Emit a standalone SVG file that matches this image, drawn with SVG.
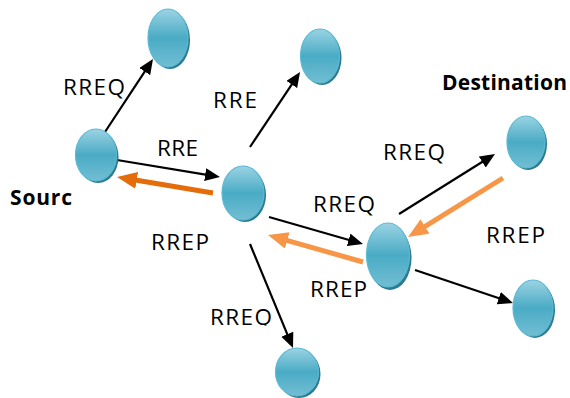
<svg xmlns="http://www.w3.org/2000/svg" width="570" height="398" viewBox="0 0 570 398">
<style>
.lbl{font-family:"Open Sans","Liberation Sans",sans-serif;font-size:22.5px;fill:#000}
.bold{font-family:"Open Sans","Liberation Sans",sans-serif;font-size:21px;font-weight:bold;fill:#000}
.blk{stroke:#000;stroke-width:2.2;fill:none;marker-end:url(#ahB)}
.dor{stroke:#E46C0A;stroke-width:5;fill:none;marker-end:url(#ahD)}
.lor{stroke:#F79646;stroke-width:5;fill:none;marker-end:url(#ahL)}
.sh{fill:#2B7A8F}
.nd{fill:url(#g);stroke:#5BBAD3;stroke-width:1.2}
</style>
<defs>
<linearGradient id="g" x1="0" y1="0" x2="0" y2="1">
<stop offset="0" stop-color="#9BD3E3"/>
<stop offset="0.5" stop-color="#4AABC5"/>
<stop offset="1" stop-color="#72BED3"/>
</linearGradient>
<marker id="ahB" markerUnits="userSpaceOnUse" markerWidth="16" markerHeight="14" refX="5" refY="6.5" orient="auto"><path d="M0,0 L15,6.5 L0,13 z" fill="#000"/></marker>
<marker id="ahD" markerUnits="userSpaceOnUse" markerWidth="21" markerHeight="18" refX="6" refY="8.5" orient="auto"><path d="M0,0 L20,8.5 L0,17 z" fill="#E46C0A"/></marker>
<marker id="ahL" markerUnits="userSpaceOnUse" markerWidth="21" markerHeight="18" refX="6" refY="8.5" orient="auto"><path d="M0,0 L20,8.5 L0,17 z" fill="#F79646"/></marker>
<clipPath id="clipB"><rect x="200" y="290" width="90" height="35.5"/></clipPath>
</defs>
<g id="connectors">
<line class="blk" x1="103" y1="135" x2="147.5" y2="67.4"/>
<line class="blk" x1="117" y1="160" x2="210.1" y2="175.4"/>
<line class="blk" x1="250" y1="147" x2="294.5" y2="80.3"/>
<line class="blk" x1="269" y1="217" x2="353.4" y2="241.2"/>
<line class="blk" x1="250" y1="244" x2="289.2" y2="338.8"/>
<line class="blk" x1="399" y1="214" x2="486.5" y2="159.3"/>
<line class="blk" x1="415" y1="270" x2="503.5" y2="299.8"/>
<line class="dor" x1="213" y1="193" x2="130.8" y2="179.3"/>
<line class="lor" x1="363" y1="262" x2="281.5" y2="238.8"/>
<line class="lor" x1="503" y1="178" x2="419.9" y2="229.6"/>
</g>
<g id="n-top"><ellipse class="sh" cx="170" cy="40" rx="20" ry="29"/><ellipse class="nd" cx="168" cy="38" rx="20" ry="29"/></g>
<g id="n-source"><ellipse class="sh" cx="98" cy="157" rx="20.5" ry="26"/><ellipse class="nd" cx="96" cy="155" rx="20.5" ry="26"/></g>
<g id="n-a"><ellipse class="sh" cx="245" cy="195" rx="21" ry="27"/><ellipse class="nd" cx="243" cy="193" rx="21" ry="27"/></g>
<g id="n-topmid"><ellipse class="sh" cx="322" cy="58" rx="19.5" ry="27"/><ellipse class="nd" cx="320" cy="56" rx="19.5" ry="27"/></g>
<g id="n-b"><ellipse class="sh" cx="390" cy="258" rx="21.5" ry="32"/><ellipse class="nd" cx="388" cy="255" rx="21.5" ry="32"/></g>
<g id="n-dest"><ellipse class="sh" cx="528" cy="144" rx="19" ry="26"/><ellipse class="nd" cx="526" cy="142" rx="19" ry="26"/></g>
<g id="n-br"><ellipse class="sh" cx="535" cy="310" rx="20" ry="28"/><ellipse class="nd" cx="533" cy="308" rx="20" ry="28"/></g>
<g id="n-bottom"><ellipse class="sh" cx="299" cy="374" rx="21.5" ry="24"/><ellipse class="nd" cx="297" cy="372" rx="21.5" ry="24"/></g>
<g id="labels">
<text class="lbl" x="63" y="95" textLength="62">RREQ</text>
<text class="lbl" x="213" y="108" textLength="44">RRE</text>
<text class="lbl" x="157" y="156" textLength="41">RRE</text>
<text class="lbl" x="151" y="250" textLength="58">RREP</text>
<text class="lbl" x="313" y="212" textLength="62">RREQ</text>
<text class="lbl" x="310" y="297" textLength="57">RREP</text>
<text class="lbl" x="383" y="160" textLength="62">RREQ</text>
<text class="lbl" x="486" y="243" textLength="59">RREP</text>
<text class="lbl" x="210" y="325" textLength="62" clip-path="url(#clipB)">RREQ</text>
<text class="bold" x="10" y="205" textLength="62">Sourc</text>
<text class="bold" x="442" y="90" textLength="125">Destination</text>
</g>
</svg>
